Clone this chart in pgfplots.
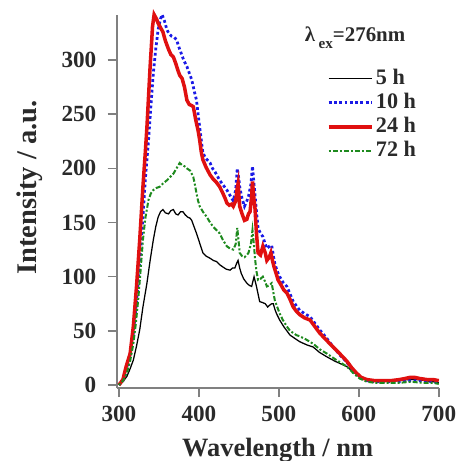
\documentclass[border=0pt]{standalone}
\usepackage{pgfplots}
\pgfplotsset{compat=1.18}
\usepackage{fontspec}
\setmainfont{Liberation Serif}
\definecolor{axgray}{HTML}{808080}
\definecolor{txt}{HTML}{2A2A2A}
\definecolor{cred}{HTML}{E01010}
\definecolor{cblue}{HTML}{1A1AE6}
\definecolor{cgreen}{HTML}{1E8A1E}
\begin{document}
\begin{tikzpicture}
\begin{axis}[
  scale only axis,
  width=128pt, height=148.4pt,
  xmin=297, xmax=700, ymin=-3, ymax=342,
  axis x line*=bottom, axis y line*=left,
  axis line style={axgray, line width=0.8pt},
  tick align=outside,
  major tick length=3.5pt,
  tick style={axgray, line width=0.6pt},
  xtick={300,400,...,700},
  ytick={0,50,...,300},
  /pgf/number format/assume math mode=true,
  ticklabel style={font=\fontsize{9.2}{10}\selectfont\bfseries, text=txt},
  yticklabel style={xshift=-1pt},
  xlabel={Wavelength / nm}, ylabel={Intensity / a.u.},
  xlabel style={font=\fontsize{10.5}{12}\selectfont\bfseries, text=txt,
    at={(axis description cs:0.50,-0.184)}, anchor=base},
  ylabel style={font=\fontsize{11.3}{13}\selectfont\bfseries, text=txt,
    at={(axis description cs:-0.247,0.537)}, anchor=base},
  legend style={draw=none, fill=none, at={(0.628,0.883)}, anchor=north west,
    font=\fontsize{8.8}{10}\selectfont\bfseries, text=txt, row sep=-2pt,
    nodes={inner xsep=1pt}},
  legend cell align=left,
  clip=false,
]
\addplot[black, line width=0.5pt] coordinates {
(300,0) (305,3) (310,8) (314,15) (318,23) (322,36) (326,51) (330,72) (335,94) (339,115) (343,134) (346,146)
(349,155) (352,160) (355,162) (358,159) (362,158) (365,161) (368,162) (371,158) (374,157) (377,160) (380,160)
(383,157) (386,155) (389,154) (391,152) (394,146) (397,140) (401,131) (405,122) (409,119) (414,117) (418,115)
(422,114) (426,111) (430,109) (434,107) (439,106) (442,108) (445,108) (447,112) (449,115) (451,108) (453,103)
(456,98) (460,94) (463,92) (466,91) (469,100) (472,91) (474,84) (476,77) (480,76) (483,75) (486,72) (489,74)
(491,75) (493,75) (495,70) (497,66) (501,60) (506,54) (510,50) (514,46) (520,43) (526,40) (535,37) (543,35)
(551,30) (560,26) (570,22) (585,17) (593,12) (601,8) (610,5) (620,4) (640,4) (651,4) (662,5) (672,5) (683,4) (693,3) (700,2)};
\addlegendentry{5 h}
\addplot[cblue, line width=1.1pt, densely dotted] coordinates {
(300,0) (305,4) (310,14) (314,28) (318,48) (321,70) (324,94) (327,123) (330,155) (333,190) (337,226) (340,258)
(343,288) (346,310) (349,328) (352,338) (354,342) (357,336) (360,328) (363,324) (366,322) (369,321) (372,319)
(375,312) (378,306) (381,300) (385,294) (388,288) (391,282) (394,272) (397,263) (399,250) (401,238) (403,226)
(405,214) (409,209) (414,205) (417,200) (420,197) (423,193) (426,189) (430,185) (435,180) (439,175) (443,170)
(446,180) (448,200) (450,190) (451,183) (454,172) (457,165) (460,170) (462,174) (465,185) (467,202) (469,185)
(470,177) (472,160) (474,145) (477,140) (480,137) (483,130) (485,126) (488,128) (491,129) (493,120) (495,112)
(498,105) (501,100) (505,95) (510,91) (514,84) (518,77) (522,73) (526,69) (532,66) (539,63) (545,57) (551,51)
(560,43) (568,35) (576,28) (585,21) (593,13) (601,8) (610,4) (620,3) (640,3) (651,3) (662,4) (676,4) (690,3) (700,2)};
\addlegendentry{10 h}
\addplot[cred, line width=1.4pt] coordinates {
(300,0) (305,5) (309,17) (314,29) (318,54) (322,91) (326,134) (330,183) (333,215) (335,238) (337,266) (339,294)
(341,318) (342,331) (344,342) (347,338) (349,334) (352,330) (355,326) (358,318) (362,310) (365,305) (368,303)
(371,297) (374,290) (376,286) (379,283) (382,275) (385,263) (388,259) (391,258) (393,257) (396,245) (399,235)
(401,226) (403,215) (405,208) (409,201) (414,194) (418,190) (422,187) (426,183) (430,177) (433,172) (435,168)
(438,166) (441,167) (443,165) (446,170) (448,182) (449,186) (451,165) (454,158) (457,152) (460,153) (462,158)
(464,160) (466,175) (467,188) (469,170) (470,165) (472,140) (474,122) (477,120) (480,128) (483,122) (485,115)
(488,118) (490,122) (492,115) (494,109) (497,102) (499,97) (503,92) (506,88) (510,85) (514,79) (518,72) (522,68)
(526,65) (532,62) (539,60) (545,54) (551,48) (560,41) (568,35) (576,29) (585,22) (591,16) (597,11) (603,7) (610,5)
(620,4) (630,4) (640,4) (651,5) (658,6) (664,7) (670,7) (676,6) (685,5) (693,5) (700,4)};
\addlegendentry{24 h}
\addplot[cgreen, line width=0.8pt, dash pattern=on 0.8pt off 0.8pt on 2pt off 0.8pt] coordinates {
(300,0) (305,4) (310,11) (314,22) (318,38) (321,56) (324,78) (327,105) (330,134) (333,154) (337,171) (340,177)
(343,180) (347,182) (351,183) (355,186) (360,189) (364,192) (368,195) (372,200) (376,205) (379,203) (382,202)
(385,200) (389,198) (391,195) (393,192) (395,185) (397,177) (399,170) (401,165) (405,160) (410,155) (414,150)
(418,146) (422,143) (426,140) (430,134) (435,128) (439,126) (443,125) (446,130) (448,145) (450,130) (451,122)
(454,119) (457,118) (460,120) (462,122) (465,130) (467,143) (469,128) (470,118) (472,105) (474,97) (477,98)
(480,100) (483,95) (485,91) (488,92) (491,94) (493,86) (495,78) (498,72) (501,66) (505,60) (510,54) (514,50)
(518,48) (522,46) (526,45) (534,42) (543,38) (551,33) (560,29) (570,24) (585,17) (593,11) (601,6) (610,3)
(620,2) (640,2) (651,2) (665,3) (680,2) (693,2) (700,1)};
\addlegendentry{72 h}
\node[anchor=base west, inner sep=0pt, font=\fontsize{8.3}{10}\selectfont\bfseries, text=txt]
  at (axis cs:532,317) {λ\,\raisebox{-0.7ex}{\fontsize{6}{7}\selectfont ex}=276nm};
\coordinate (bbsw) at (axis cs:151.25,-70.2);
\coordinate (bbne) at (axis cs:726.25,355.5);
\end{axis}
\pgfresetboundingbox
\useasboundingbox (bbsw) rectangle (bbne);
\end{tikzpicture}
\end{document}
